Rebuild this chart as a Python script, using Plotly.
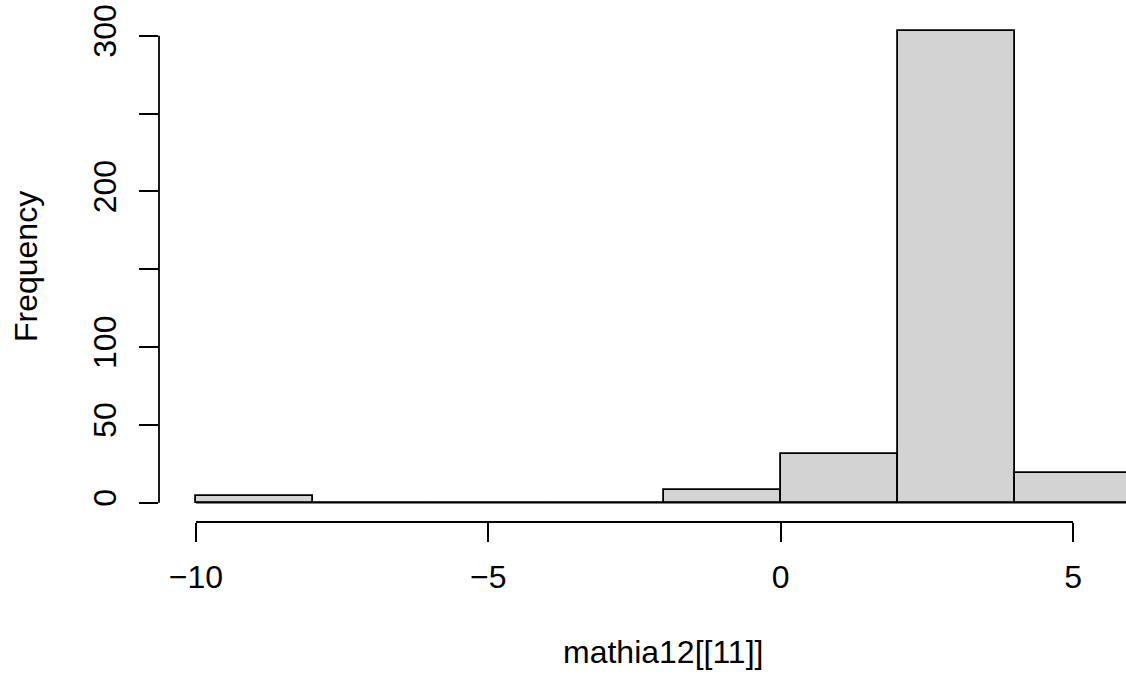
import plotly.graph_objects as go

# Histogram data (bins of width 2)
bin_edges = [-10, -8, -6, -4, -2, 0, 2, 4, 6]
counts = [4, 0, 0, 0, 8, 31, 303, 19]

x_ticks = [-10, -5, 0, 5]
x_ticktext = ["\u221210", "\u22125", "0", "5"]
y_ticks = [0, 50, 100, 150, 200, 250, 300]
y_ticktext = ["0", "50", "100", "", "200", "", "300"]

x_title = "mathia12[[11]]"
y_title = "Frequency"

centers = [(a + b) / 2 for a, b in zip(bin_edges[:-1], bin_edges[1:])]
widths = [b - a for a, b in zip(bin_edges[:-1], bin_edges[1:])]

FONT = "Liberation Sans, Arial, Helvetica, sans-serif"
FS = 32
LW = 1.8

fig = go.Figure()
fig.add_trace(go.Bar(
    x=centers, y=counts, width=widths,
    marker=dict(color="#D3D3D3", line=dict(color="black", width=LW)),
    showlegend=False, hoverinfo="skip",
))
# baseline of bars (zero-count bins drawn as flat lines, as in R)
fig.add_trace(go.Scatter(
    x=[bin_edges[0], bin_edges[-1]], y=[0, 0], mode="lines",
    line=dict(color="black", width=LW), showlegend=False, hoverinfo="skip",
))

# axis lines spanning only the tick range (R style)
fig.add_shape(type="line", xref="x", yref="paper",
              x0=x_ticks[0], x1=x_ticks[-1], y0=0, y1=0,
              line=dict(color="black", width=LW))
fig.add_shape(type="line", xref="paper", yref="y",
              x0=0, x1=0, y0=y_ticks[0], y1=y_ticks[-1],
              line=dict(color="black", width=LW))

fig.update_layout(
    width=1126, height=677,
    margin=dict(l=159, r=0, t=11, b=155),
    plot_bgcolor="white", paper_bgcolor="white",
    bargap=0,
    font=dict(family=FONT, size=FS, color="black"),
    xaxis=dict(range=[-10.633, 5.906], showgrid=False, zeroline=False,
               showline=False, ticks="outside", ticklen=19, tickwidth=LW,
               tickcolor="black", tickvals=x_ticks, ticktext=x_ticktext,
               tickfont=dict(family=FONT, size=FS), ticklabelstandoff=8),
    yaxis=dict(range=[-12.4, 315.9], showgrid=False, zeroline=False,
               showline=False, ticks="outside", ticklen=19, tickwidth=LW,
               tickcolor="black", tickvals=y_ticks, ticktext=y_ticktext,
               tickangle=-90,
               tickfont=dict(family=FONT, size=FS), ticklabelstandoff=10),
    annotations=[
        dict(text=x_title, xref="paper", yref="paper", x=0.5212, y=-0.2544,
             xanchor="center", yanchor="middle", showarrow=False,
             font=dict(family=FONT, size=FS)),
        dict(text=y_title, xref="paper", yref="paper", x=-0.138, y=0.5,
             xanchor="center", yanchor="middle", showarrow=False, textangle=-90,
             font=dict(family=FONT, size=FS)),
    ],
)

fig.write_html("out.html")
